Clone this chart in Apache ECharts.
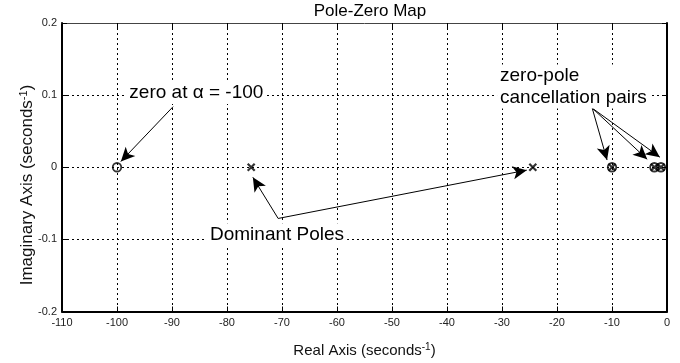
<!DOCTYPE html>
<html>
<head>
<meta charset="utf-8">
<script src="https://cdn.jsdelivr.net/npm/echarts@6/dist/echarts.min.js"></script>
<style>
html,body{margin:0;padding:0;background:#fff;}
#chart{width:680px;height:363px;}
</style>
</head>
<body>
<div id="chart"></div>
<script>
// ---- data ----
var zeroReal = [-100, -10, -2.3, -1.1];
var zeroImag = [0, 0, 0, 0];
var poleReal = [-75.6, -24.4, -10, -2.3, -1.1];
var poleImag = [0, 0, 0, 0, 0];
var xTicks = [-110, -100, -90, -80, -70, -60, -50, -40, -30, -20, -10, 0];
var yTicks = [-0.2, -0.1, 0, 0.1, 0.2];

// annotation anchors (data coordinates)
var arrows = [
  [[-89.8, 0.084], [-99.3, 0.008]],
  [[-70.7, -0.071], [-75.3, -0.014]],
  [[-70.7, -0.071], [-25.5, -0.004]],
  [[-13.6, 0.082], [-10.9, 0.010]],
  [[-13.6, 0.082], [-3.6, 0.011]],
  [[-13.6, 0.082], [-1.3, 0.014]]
];
var notes = [
  {text: 'zero at \u03b1 = -100', at: [-98.3, 0.103], align: 'left'},
  {text: 'Dominant Poles', at: [-70.9, -0.093], align: 'center'},
  {text: 'zero-pole\ncancellation pairs', at: [-30.9, 0.112], align: 'left'}
];

var FONT = '"Liberation Sans", Arial, Helvetica, sans-serif';
var chart = echarts.init(document.getElementById('chart'), null, {renderer: 'canvas'});

function zip(a, b) { return a.map(function (v, i) { return [v, b[i]]; }); }
var gridLine = {show: true, lineStyle: {color: '#000', width: 1, type: [2, 3]}};

var option = {
  animation: false,
  backgroundColor: '#fff',
  grid: {left: 62, right: 13, top: 23, bottom: 46},
  xAxis: [{
    type: 'value', min: -110, max: 0, interval: 10, position: 'bottom',
    name: 'Real Axis (seconds{sup|-1})', nameLocation: 'middle', nameGap: 31,
    nameTextStyle: {fontFamily: FONT, fontSize: 15, color: '#111',
      rich: {sup: {fontFamily: FONT, fontSize: 10, color: '#111', verticalAlign: 'top', padding: [0, 0, 6, 0]}}},
    axisLine: {show: true, onZero: false, lineStyle: {color: '#000', width: 2}},
    axisTick: {show: true, inside: true, length: 5, lineStyle: {color: '#000'}},
    axisLabel: {fontFamily: FONT, fontSize: 11, color: '#222', margin: 6,
      formatter: function (v) { return xTicks.indexOf(v) >= 0 ? String(v) : ''; }},
    splitLine: gridLine
  }, {
    type: 'value', min: -110, max: 0, interval: 10, position: 'top',
    axisLine: {show: true, onZero: false, lineStyle: {color: '#444', width: 1}},
    axisTick: {show: true, inside: true, length: 5, lineStyle: {color: '#000'}},
    axisLabel: {show: false}, splitLine: {show: false}
  }],
  yAxis: [{
    type: 'value', min: -0.2, max: 0.2, interval: 0.1, position: 'left',
    axisLine: {show: true, onZero: false, lineStyle: {color: '#000', width: 2}},
    axisTick: {show: true, inside: true, length: 5, lineStyle: {color: '#000'}},
    axisLabel: {fontFamily: FONT, fontSize: 11, color: '#222', margin: 5,
      formatter: function (v) {
        var r = Math.round(v * 10) / 10;
        return yTicks.indexOf(r) >= 0 ? String(r) : '';
      }},
    splitLine: gridLine
  }, {
    type: 'value', min: -0.2, max: 0.2, interval: 0.1, position: 'right',
    axisLine: {show: true, onZero: false, lineStyle: {color: '#000', width: 2}},
    axisTick: {show: true, inside: true, length: 5, lineStyle: {color: '#000'}},
    axisLabel: {show: false}, splitLine: {show: false}
  }],
  series: [{
    name: 'zeros', type: 'scatter', xAxisIndex: 0, yAxisIndex: 0,
    data: zip(zeroReal, zeroImag),
    symbol: 'circle', symbolSize: 8.5,
    itemStyle: {color: 'rgba(0,0,0,0)', borderColor: '#000', borderWidth: 1.8},
    z: 5,
    markLine: {
      silent: true, symbol: ['none', 'arrow'], symbolSize: [10, 14], precision: 4,
      label: {show: false},
      lineStyle: {color: '#000', width: 1, type: 'solid'},
      data: arrows.map(function (a) { return [{coord: a[0]}, {coord: a[1]}]; })
    }
  }, {
    name: 'poles', type: 'scatter', xAxisIndex: 0, yAxisIndex: 0,
    data: zip(poleReal, poleImag),
    symbol: 'path://M0,0L10,10M10,0L0,10', symbolSize: 7,
    itemStyle: {color: 'rgba(0,0,0,0)', borderColor: '#000', borderWidth: 2.2},
    z: 6
  }]
};
chart.setOption(option);

var g = notes.map(function (n) {
  var p = chart.convertToPixel({gridIndex: 0}, n.at);
  return {
    type: 'text', x: p[0], y: p[1], z: 20,
    style: {text: n.text, font: '19px ' + FONT, fill: '#000',
      align: n.align, verticalAlign: 'middle', lineHeight: 22,
      backgroundColor: '#fff', padding: [0, 3, 0, 3]}
  };
});
// chart title and vertical axis title
g.push({
  type: 'text', x: 370, y: 11, z: 20,
  style: {text: 'Pole-Zero Map', font: '17px ' + FONT, fill: '#000', align: 'center', verticalAlign: 'middle'}
});
g.push({
  type: 'text', x: 27, y: 185, rotation: Math.PI / 2, z: 20,
  style: {text: 'Imaginary Axis (seconds{sup|-1})', font: '17px ' + FONT, fill: '#111',
    align: 'center', verticalAlign: 'middle',
    rich: {sup: {font: '11px ' + FONT, fill: '#111', verticalAlign: 'top', padding: [0, 0, 7, 0]}}}
});
chart.setOption({graphic: g});
</script>
</body>
</html>
